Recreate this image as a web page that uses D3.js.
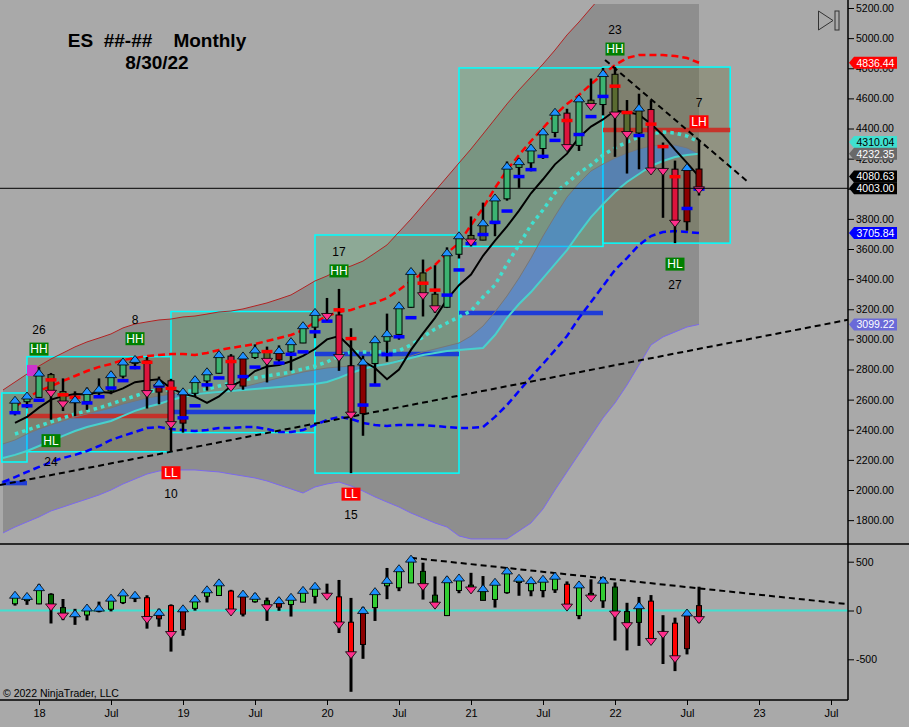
<!DOCTYPE html>
<html>
<head>
<meta charset="utf-8">
<script src="https://cdn.jsdelivr.net/npm/d3@7"></script>
<style>
  body { margin: 0; background: #a9a9a9; }
  svg { display: block; font-family: "Liberation Sans", Arial, sans-serif; }
</style>
</head>
<body>
<svg id="chart" width="909" height="727"></svg>
<script>
// month index 0 = Jan 2018; bars run Nov 2017 .. Aug 2022 (back-adjusted ES)
const barStart = -2;
const open  = [2514,2586,2615,2766,2653,2582,2588,2644,2658,2756,2841,2858,2650,2725,2444,2642,2724,2775,2889,2690,2880,2920,2864,2916,2976,3081,3169,3162,2825,2507,2840,2988,3033,3213,3441,3300,3213,3565,3690,3659,3768,3933,4142,4172,4267,4374,4502,4288,4588,4559,4760,4499,4370,4526,4130,4130,3781,4131];
const high  = [2596,2632,2816,2777,2741,2655,2680,2741,2786,2854,2885,2883,2753,2738,2654,2751,2798,2897,2902,2902,2967,2952,2960,2984,3095,3185,3275,3335,3074,2892,3006,3171,3222,3468,3530,3492,3611,3693,3816,3908,3943,4181,4204,4268,4396,4519,4531,4598,4732,4802,4808,4589,4631,4588,4307,4187,4140,4325];
const low   = [2495,2543,2611,2467,2524,2491,2532,2631,2636,2741,2802,2541,2569,2254,2381,2619,2660,2772,2666,2666,2870,2714,2827,2793,2975,3008,3150,2791,2112,2360,2703,2851,2998,3210,3152,3176,3208,3537,3617,3658,3685,3921,4006,4116,4198,4342,4266,4251,4552,4487,4212,4101,4129,4124,3807,3639,3722,3955];
const close = [2586,2614,2766,2652,2581,2589,2644,2659,2756,2840,2857,2650,2700,2444,2642,2723,2775,2889,2690,2880,2920,2864,2916,2975,3081,3169,3162,2889,2507,2840,2988,3028,3213,3441,3300,3213,3565,3678,3656,3764,3929,4140,4170,4261,4368,4498,4283,4587,4556,4755,4499,4370,4526,4128,4125,3781,4131,4003];
// 1 trend-up bar, 2 pullback in up-trend, 3 trend-down bar, 4 bounce in down-trend
const barState = [1,1,1,2,2,1,1,1,1,1,1,3,4,3,4,1,1,1,3,4,1,2,4,1,1,1,2,3,3,4,1,1,1,1,2,2,1,1,2,2,1,1,1,1,1,1,3,1,2,1,2,2,2,3,3,3,4,4];
const pivot = [2513,2559,2596,2731,2632,2615,2578,2619,2677,2726,2812,2848,2691,2674,2479,2559,2698,2744,2853,2753,2816,2919,2843,2901,2917,3050,3121,3196,3005,2564,2697,2899,3017,3144,3373,3327,3294,3461,3636,3696,3777,3852,4081,4127,4215,4321,4453,4360,4479,4613,4681,4506,4353,4429,4280,4080,3869,3998];
const fastMA = [2445,2485,2547,2600,2623,2638,2634,2650,2645,2675,2716,2727,2735,2675,2640,2620,2578,2621,2690,2727,2790,2820,2830,2855,2890,2936,3000,3022,2945,2855,2810,2735,2800,2930,3040,3143,3265,3360,3430,3555,3655,3750,3855,3970,4063,4162,4233,4340,4413,4460,4520,4510,4492,4430,4355,4260,4172,4080.63];

// lower panel: bar distance from the fast MA
const oscOpen  = [69,101,68,166,30,-56,-46,-6,13,81,125,131,-85,50,-196,22,146,154,199,-37,90,100,34,61,86,145,169,140,-120,-348,30,253,233,283,401,157,-52,205,260,104,113,183,287,202,204,212,269,-52,175,99,240,-11,-122,96,-225,-130,-391,50];
const oscHigh  = [151,147,269,177,118,17,46,91,141,179,169,156,18,63,14,131,220,276,212,175,177,132,130,129,205,249,275,313,129,37,196,436,422,538,490,349,346,333,386,353,288,431,349,298,333,357,298,258,319,342,288,79,139,158,-48,-73,-32,244];
const oscLow   = [50,58,64,-133,-99,-147,-102,-19,-9,66,86,-186,-166,-421,-259,-1,82,151,-24,-61,80,-106,-3,-62,85,72,150,-231,-833,-495,-107,116,198,280,112,33,-57,177,187,103,30,171,151,146,135,180,33,-89,139,27,-308,-409,-363,-306,-548,-621,-450,-126];
const oscClose = [141,129,219,52,-42,-49,10,9,111,165,141,-77,-35,-231,2,103,197,268,0,153,130,44,86,120,191,233,162,-133,-438,-15,178,293,413,511,260,70,300,318,226,209,274,390,315,291,305,336,50,247,143,295,-21,-140,34,-302,-230,-479,-41,-78];

// bands start one month earlier (Oct 2017)
const bandStart = -3;
const upperOuter = [2664,2717,2770,2823,2870,2910,2950,2983,3009,3036,3076,3102,3116,3129,3135,3149,3155,3168,3182,3188,3202,3222,3242,3268,3295,3341,3388,3421,3461,3487,3520,3573,3627,3713,3799,3892,3985,4078,4171,4264,4363,4463,4563,4656,4742,4828,4921,5021,5107,5200,5290,5330,5360,5370,5380,5380,5370,5360,5350];
const lowerOuter = [1715,1754,1788,1821,1861,1887,1914,1940,1967,2000,2040,2073,2106,2126,2133,2133,2133,2126,2120,2106,2093,2080,2060,2033,2007,1980,2020,2040,2053,2027,1993,1954,1920,1887,1847,1814,1781,1754,1695,1675,1675,1675,1675,1728,1781,1874,2000,2120,2239,2359,2478,2578,2697,2830,2963,3016,3049,3082,3099.22];
const redDashed = [null,2551,2611,2657,2690,2724,2757,2790,2817,2837,2863,2876,2890,2896,2903,2903,2896,2910,2929,2943,2956,2969,2989,3009,3029,3062,3115,3155,3182,3195,3222,3242,3275,3328,3388,3441,3494,3573,3640,3759,3872,4005,4124,4224,4317,4403,4490,4563,4622,4695,4762,4821,4868,4888,4888,4888,4881,4868,4836.44];
const blueDashed = [2053,2086,2120,2153,2186,2213,2233,2259,2292,2332,2359,2385,2412,2418,2405,2398,2392,2398,2412,2412,2418,2418,2405,2385,2385,2398,2432,2465,2485,2472,2445,2432,2425,2432,2432,2432,2425,2418,2412,2412,2418,2485,2564,2657,2750,2837,2929,3022,3142,3248,3354,3461,3540,3627,3686,3713,3719,3713,3705.84];
const cyanDotted = [null,2372,2398,2425,2452,2478,2505,2525,2545,2571,2598,2624,2651,2664,2664,2657,2657,2670,2690,2710,2730,2744,2757,2770,2783,2803,2823,2850,2890,2916,2916,2916,2920,2925,2963,3016,3069,3109,3149,3188,3281,3361,3500,3627,3759,3859,3972,4038,4105,4158,4224,4271,4310,4344,4364,4377,4370,4350,4310.04];
const cloudTop = [2306,2332,2372,2405,2432,2458,2485,2505,2525,2545,2571,2591,2611,2624,2637,2644,2651,2644,2644,2657,2684,2704,2724,2744,2764,2783,2797,2810,2817,2823,2823,2823,2837,2863,2890,2916,2936,2956,2976,3022,3089,3182,3288,3407,3540,3686,3819,3945,4038,4118,4164,4204,4237,4264,4284,4290,4290,4271,4232.35];
const cloudBottom = [2213,2233,2259,2292,2325,2359,2392,2418,2438,2458,2492,2525,2551,2571,2598,2617,2637,2644,2651,2657,2664,2670,2677,2684,2690,2697,2704,2717,2744,2777,2803,2823,2837,2857,2876,2896,2910,2923,2929,2936,2943,3029,3142,3235,3314,3407,3500,3593,3706,3812,3898,3978,4045,4098,4151,4184,4211,4224,4233];

// yearly range boxes
const boxYear  = [2017, 2018, 2019, 2020, 2021, 2022];
const boxFrom  = [-3.1, -1, 11, 23, 35, 47];
const boxTo    = [-1, 11, 23, 35, 47, 57.6];
const boxHigh  = [2644, 2885, 3185, 3693, 4802, 4808];
const boxLow   = [2186, 2254, 2381, 2112, 3617, 3639];
const boxLevel = [2046, 2491, 2518, 2903, 3175, 4390];
const boxUp    = [true, false, true, true, true, false];

// swing points
const swingMonth = [0, 1, 8, 11, 25, 26, 48, 53, 55];
const swingType  = ["HH", "HL", "HH", "LL", "HH", "LL", "HH", "HL", "LH"];
const swingCount = [26, 24, 8, 10, 17, 15, 23, 27, 7];

// trend lines [month, value]
const trendLow  = [[-3.25, 2033], [67.42, 3130]];
const trendHigh = [[47.17, 4855], [59.08, 4045]];
const trendOsc  = [[31, 540], [67.42, 65]];
const markBox = [[-1, 2830], [-0.15, 2757]];

const priceTicks = d3.range(1800, 5201, 200);
const oscTicks = [-500, 0, 500];
const monthTicks = d3.range(0, 67, 6);

// ---------- scales ----------
const svg = d3.select("#chart");
const axisX = 848;
const x = d3.scaleLinear().domain([0, 60]).range([39, 759]);
const y = d3.scaleLinear().domain([3600, 5200]).range([249, 8]);
const yo = d3.scaleLinear().domain([-500, 500]).range([659.3, 561.7]);
const fmt2 = d3.format(".2f");

const bars = open.map((o, i) => ({
  m: barStart + i, o, h: high[i], l: low[i], c: close[i], st: barState[i],
  pv: pivot[i], ma: fastMA[i],
  oo: oscOpen[i], oh: oscHigh[i], ol: oscLow[i], oc: oscClose[i]
}));
const bands = upperOuter.map((u, k) => ({
  m: bandStart + k, u, lo: lowerOuter[k], rd: redDashed[k], bd: blueDashed[k],
  cd: cyanDotted[k], ct: cloudTop[k], cb: cloudBottom[k]
}));
const boxes = boxYear.map((yr, j) => ({
  yr, from: boxFrom[j], to: boxTo[j], hi: boxHigh[j], lo: boxLow[j], lvl: boxLevel[j], up: boxUp[j]
}));

const mainBody = { 1: "#3cb371", 2: "#5a6b30", 3: "#dc143c", 4: "#8b0000" };
const oscBody  = { 1: "#32cd32", 2: "#006400", 3: "#ff0000", 4: "#8b0000" };

const defs = svg.append("defs");
defs.append("clipPath").attr("id", "clipMain").append("rect")
  .attr("x", 0).attr("y", 4).attr("width", axisX).attr("height", 539);
defs.append("clipPath").attr("id", "clipOsc").append("rect")
  .attr("x", 0).attr("y", 545).attr("width", axisX).attr("height", 155);

function tri(xc, yc, up) {
  return up
    ? `M${xc - 5.5},${yc + 1.5}L${xc + 5.5},${yc + 1.5}L${xc},${yc - 5.5}Z`
    : `M${xc - 5.5},${yc - 1.5}L${xc + 5.5},${yc - 1.5}L${xc},${yc + 5.5}Z`;
}

// ---------- price panel ----------
const g = svg.append("g").attr("clip-path", "url(#clipMain)");

g.append("path").datum(bands)
  .attr("d", d3.area().x(d => x(d.m)).y0(d => y(d.lo)).y1(d => y(d.u)))
  .attr("fill", "#8e8e8e");

g.selectAll("rect.box").data(boxes).join("rect").attr("class", "box")
  .attr("x", d => x(d.from)).attr("width", d => x(d.to) - x(d.from))
  .attr("y", d => y(d.hi)).attr("height", d => y(d.lo) - y(d.hi))
  .attr("fill", d => d.up ? "rgba(70,170,100,0.28)" : "rgba(90,95,40,0.3)")
  .attr("stroke", "#00ffff").attr("stroke-width", 1.5);

g.append("path").datum(bands)
  .attr("d", d3.area().x(d => x(d.m)).y0(d => y(d.cb)).y1(d => y(d.ct)))
  .attr("fill", "rgba(40,130,255,0.45)");

g.selectAll("line.lvl").data(boxes).join("line").attr("class", "lvl")
  .attr("x1", d => x(d.from)).attr("x2", d => x(d.to))
  .attr("y1", d => y(d.lvl)).attr("y2", d => y(d.lvl))
  .attr("stroke", d => d.up ? "#1234e0" : "#cc2a22")
  .attr("stroke-width", 4.5).attr("opacity", 0.9);

function bandLine(key, stroke, width, dash) {
  g.append("path").datum(bands)
    .attr("d", d3.line().defined(d => d[key] != null).x(d => x(d.m)).y(d => y(d[key])))
    .attr("fill", "none").attr("stroke", stroke).attr("stroke-width", width)
    .attr("stroke-dasharray", dash || null);
}
bandLine("u", "#b22222", 1);
bandLine("lo", "#7b68ee", 1);
bandLine("ct", "#777", 1);
bandLine("cb", "#48d1cc", 2);
bandLine("cd", "#40e0d0", 3.5, "3.5,4");
bandLine("rd", "#ff0000", 2.5, "7,4");
bandLine("bd", "#0000ff", 2.5, "7,4");

g.append("path").datum(bars)
  .attr("d", d3.line().x(d => x(d.m)).y(d => y(d.ma)))
  .attr("fill", "none").attr("stroke", "#000").attr("stroke-width", 2);

[trendLow, trendHigh].forEach(t => {
  g.append("path").datum(t)
    .attr("d", d3.line().x(d => x(d[0])).y(d => y(d[1])))
    .attr("fill", "none").attr("stroke", "#000").attr("stroke-width", 2)
    .attr("stroke-dasharray", "6,4");
});

g.append("rect")
  .attr("x", x(markBox[0][0])).attr("width", x(markBox[1][0]) - x(markBox[0][0]))
  .attr("y", y(markBox[0][1])).attr("height", y(markBox[1][1]) - y(markBox[0][1]))
  .attr("fill", "#cc33cc");

const cg = g.append("g");
cg.selectAll("line.wick").data(bars).join("line").attr("class", "wick")
  .attr("x1", d => x(d.m)).attr("x2", d => x(d.m))
  .attr("y1", d => y(d.h)).attr("y2", d => y(d.l))
  .attr("stroke", "#000").attr("stroke-width", 2.5);
cg.selectAll("rect.body").data(bars).join("rect").attr("class", "body")
  .attr("x", d => x(d.m) - 3).attr("width", 6)
  .attr("y", d => y(Math.max(d.o, d.c)))
  .attr("height", d => Math.max(1, y(Math.min(d.o, d.c)) - y(Math.max(d.o, d.c))))
  .attr("fill", d => mainBody[d.st]).attr("stroke", "#000").attr("stroke-width", 1);
cg.selectAll("rect.pv").data(bars).join("rect").attr("class", "pv")
  .attr("x", d => x(d.m) - 5.5).attr("width", 11)
  .attr("y", d => y(d.pv) - 1.75).attr("height", 3.5)
  .attr("fill", d => d.c > d.pv ? "#0000ff" : "#ff0000");
cg.selectAll("path.tri").data(bars).join("path").attr("class", "tri")
  .attr("d", d => tri(x(d.m), y(d.c), d.c >= d.o))
  .attr("fill", d => d.c >= d.o ? "#1e90ff" : "#ff2e8c")
  .attr("stroke", "#000").attr("stroke-width", 0.8);

// swing labels
const swings = swingMonth.map((m, j) => {
  const b = bars.find(d => d.m === m);
  const above = swingType[j] === "HH" || swingType[j] === "LH";
  const yb = above ? y(b.h) : y(b.l);
  return { m, type: swingType[j], n: swingCount[j], above, yb };
});
const sg = svg.append("g");
sg.selectAll("rect").data(swings).join("rect")
  .attr("x", d => x(d.m) - 9.5).attr("width", 19)
  .attr("y", d => (d.above ? d.yb - 18 : d.yb + 21) - 6.5).attr("height", 13)
  .attr("fill", d => d.type[1] === "H" && d.type !== "LH" ? "#008000" : (d.type === "HL" ? "#008000" : "#ff0000"));
sg.selectAll("text.t").data(swings).join("text").attr("class", "t")
  .attr("x", d => x(d.m)).attr("y", d => d.above ? d.yb - 18 : d.yb + 21)
  .attr("dy", "0.36em").attr("text-anchor", "middle")
  .attr("font-size", 12).attr("fill", "#fff").text(d => d.type);
sg.selectAll("text.n").data(swings).join("text").attr("class", "n")
  .attr("x", d => x(d.m)).attr("y", d => d.above ? d.yb - 37 : d.yb + 42)
  .attr("dy", "0.36em").attr("text-anchor", "middle")
  .attr("font-size", 12).attr("fill", "#000").text(d => d.n);

// last price line
svg.append("line").attr("x1", 0).attr("x2", axisX)
  .attr("y1", y(close[close.length - 1])).attr("y2", y(close[close.length - 1]))
  .attr("stroke", "#000").attr("stroke-width", 1);

// ---------- oscillator panel ----------
const og = svg.append("g").attr("clip-path", "url(#clipOsc)");
og.append("line").attr("x1", 0).attr("x2", axisX).attr("y1", yo(0)).attr("y2", yo(0))
  .attr("stroke", "#40e0d0").attr("stroke-width", 2);
og.append("path").datum(trendOsc)
  .attr("d", d3.line().x(d => x(d[0])).y(d => yo(d[1])))
  .attr("fill", "none").attr("stroke", "#000").attr("stroke-width", 2)
  .attr("stroke-dasharray", "6,4");
og.selectAll("line.wick").data(bars).join("line").attr("class", "wick")
  .attr("x1", d => x(d.m)).attr("x2", d => x(d.m))
  .attr("y1", d => yo(d.oh)).attr("y2", d => yo(d.ol))
  .attr("stroke", "#000").attr("stroke-width", 3);
og.selectAll("rect.body").data(bars).join("rect").attr("class", "body")
  .attr("x", d => x(d.m) - 2.5).attr("width", 5)
  .attr("y", d => yo(Math.max(d.oo, d.oc)))
  .attr("height", d => Math.max(1, yo(Math.min(d.oo, d.oc)) - yo(Math.max(d.oo, d.oc))))
  .attr("fill", d => oscBody[d.st]).attr("stroke", "#000").attr("stroke-width", 1);
og.selectAll("path.tri").data(bars).join("path").attr("class", "tri")
  .attr("d", d => tri(x(d.m), yo(d.oc), d.c >= d.o))
  .attr("fill", d => d.c >= d.o ? "#1e90ff" : "#ff2e8c")
  .attr("stroke", "#000").attr("stroke-width", 0.8);

// ---------- frame & axes ----------
svg.append("line").attr("x1", 0).attr("x2", 909).attr("y1", 544).attr("y2", 544)
  .attr("stroke", "#000").attr("stroke-width", 1.5);
svg.append("line").attr("x1", 0).attr("x2", axisX).attr("y1", 700).attr("y2", 700)
  .attr("stroke", "#000").attr("stroke-width", 1.5);
svg.append("line").attr("x1", axisX).attr("x2", axisX).attr("y1", 0).attr("y2", 700)
  .attr("stroke", "#000").attr("stroke-width", 1.5);

function styleAxis(sel, size) {
  sel.select(".domain").remove();
  sel.selectAll("text").attr("font-size", size).attr("fill", "#000")
    .attr("font-family", '"Liberation Sans", Arial, sans-serif');
  sel.selectAll("line").attr("stroke", "#000");
}
svg.append("g").attr("transform", `translate(${axisX},0)`)
  .call(d3.axisRight(y).tickValues(priceTicks).tickFormat(fmt2).tickSize(6).tickPadding(2))
  .call(s => styleAxis(s, 10.5));
svg.append("g").attr("transform", `translate(${axisX},0)`)
  .call(d3.axisRight(yo).tickValues(oscTicks).tickFormat(d => d).tickSize(6).tickPadding(2))
  .call(s => styleAxis(s, 10.5));
svg.append("g").attr("transform", "translate(0,700)")
  .call(d3.axisBottom(x).tickValues(monthTicks)
    .tickFormat(m => m % 12 === 0 ? String(18 + m / 12) : "Jul").tickSize(5).tickPadding(4))
  .call(s => styleAxis(s, 11));

// value flags on the price axis
const flags = [
  { v: redDashed[redDashed.length - 1], bg: "#ff0000", fg: "#fff" },
  { v: cyanDotted[cyanDotted.length - 1], bg: "#40e0d0", fg: "#000" },
  { v: cloudTop[cloudTop.length - 1], bg: "#696969", fg: "#fff" },
  { v: fastMA[fastMA.length - 1], bg: "#000", fg: "#fff" },
  { v: close[close.length - 1], bg: "#000", fg: "#fff" },
  { v: blueDashed[blueDashed.length - 1], bg: "#0000ff", fg: "#fff" },
  { v: lowerOuter[lowerOuter.length - 1], bg: "#6a6ad8", fg: "#fff" }
];
const fg = svg.append("g");
flags.forEach(f => {
  const yy = y(f.v);
  fg.append("path")
    .attr("d", `M${axisX + 1},${yy}L${axisX + 6},${yy - 6}L897,${yy - 6}L897,${yy + 6}L${axisX + 6},${yy + 6}Z`)
    .attr("fill", f.bg);
  fg.append("text").attr("x", 856.5).attr("y", yy).attr("dy", "0.36em")
    .attr("font-size", 10.5).attr("fill", f.fg).text(fmt2(f.v));
});

// titles
svg.append("text").attr("x", 157).attr("y", 47).attr("text-anchor", "middle")
  .attr("font-size", 19).attr("font-weight", "bold").style("white-space", "pre")
  .text("ES  ##-##    Monthly");
svg.append("text").attr("x", 157).attr("y", 69).attr("text-anchor", "middle")
  .attr("font-size", 19).attr("font-weight", "bold").text("8/30/22");
svg.append("text").attr("x", 3).attr("y", 697).attr("font-size", 10.5).text("© 2022 NinjaTrader, LLC");

// scroll-to-end glyph
svg.append("path").attr("d", "M818.5,11L833,20.5L818.5,30Z").attr("fill", "none").attr("stroke", "#333").attr("stroke-width", 1);
svg.append("rect").attr("x", 835).attr("y", 11).attr("width", 4).attr("height", 19)
  .attr("fill", "none").attr("stroke", "#333").attr("stroke-width", 1);
</script>
</body>
</html>
